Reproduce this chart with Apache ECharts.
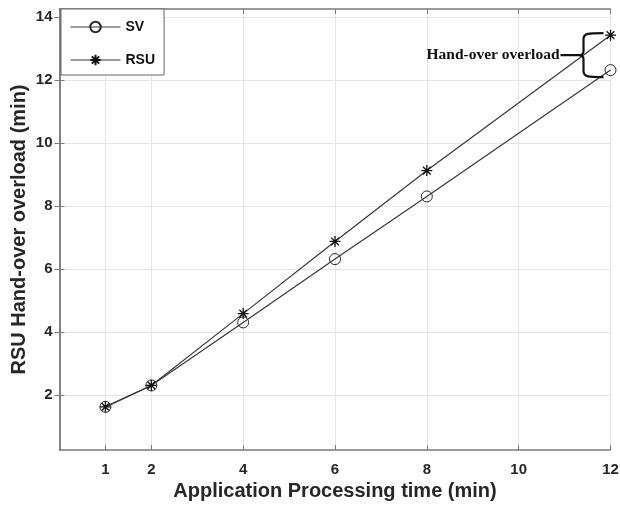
<!DOCTYPE html>
<html>
<head>
<meta charset="utf-8">
<script src="https://cdn.jsdelivr.net/npm/echarts@6/dist/echarts.min.js"></script>
<style>
  html, body { margin: 0; padding: 0; background: #fff; }
  #chart { width: 620px; height: 506px; }
</style>
</head>
<body>
<div id="chart"></div>
<script>
// Application processing time (min) on the x axis
const processingTime = [1, 2, 4, 6, 8, 12];
// Hand-over overload (min) per scheme
const svOverload = [1.62, 2.30, 4.30, 6.31, 8.30, 12.31];
const rsuOverload = [1.62, 2.30, 4.58, 6.87, 9.12, 13.42];
// Tick positions on each axis
const xTicks = [1, 2, 4, 6, 8, 10, 12];
const yTicks = [2, 4, 6, 8, 10, 12, 14];

const FONT = '"Liberation Sans", Arial, sans-serif';
const TEXT = '#262626';
const AXIS = '#7a7a7a';
const LINE = '#383838';
const STAR = 'path://M10,0L10,20M0,10L20,10M3,3L17,17M3,17L17,3';

const pairs = (xs, ys) => xs.map((x, i) => [x, ys[i]]);

const baseAxisLine = { show: true, lineStyle: { color: AXIS, width: 1.5 } };
const tickStyle = (vals) => ({
  show: true, inside: true, length: 5, customValues: vals,
  lineStyle: { color: AXIS, width: 1 }
});

const chart = echarts.init(document.getElementById('chart'), null, { renderer: 'canvas' });

const lastIdx = processingTime.length - 1;

chart.setOption({
  backgroundColor: '#fff',
  animation: false,
  textStyle: { fontFamily: FONT },
  grid: { left: 59.5, right: 9.5, top: 9, bottom: 56, containLabel: false, outerBoundsMode: 'none' },
  legend: {
    data: ['SV', 'RSU'],
    orient: 'vertical',
    left: 61, top: 9,
    padding: [11, 9, 8, 9],
    itemWidth: 50, itemHeight: 13, itemGap: 19,
    backgroundColor: '#fff',
    borderColor: '#666', borderWidth: 1,
    lineStyle: { width: 1 },
    textStyle: { fontFamily: FONT, fontWeight: 'bold', fontSize: 14, color: '#111' }
  },
  xAxis: [{
    type: 'value', min: 0, max: 12,
    name: 'Application Processing time (min)',
    nameLocation: 'middle', nameGap: 28,
    nameTextStyle: { fontFamily: FONT, fontWeight: 'bold', fontSize: 20, color: TEXT },
    axisLine: baseAxisLine,
    axisTick: tickStyle(xTicks),
    axisLabel: { customValues: xTicks, margin: 12, fontFamily: FONT, fontWeight: 'bold', fontSize: 15, color: TEXT },
    splitLine: { show: true, lineStyle: { color: '#e4e4e4', width: 1 } }
  }, {
    type: 'value', min: 0, max: 12, position: 'top',
    axisLine: baseAxisLine,
    axisTick: tickStyle(xTicks),
    axisLabel: { show: false },
    splitLine: { show: false }
  }],
  yAxis: [{
    type: 'value', min: 0.25, max: 14.25,
    name: 'RSU Hand-over overload (min)',
    nameLocation: 'middle', nameGap: 30, nameRotate: 90, nameMoveOverlap: false,
    nameTextStyle: { fontFamily: FONT, fontWeight: 'bold', fontSize: 20, color: TEXT },
    axisLine: baseAxisLine,
    axisTick: tickStyle(yTicks),
    axisLabel: { customValues: yTicks, margin: 7, fontFamily: FONT, fontWeight: 'bold', fontSize: 15, color: TEXT },
    splitLine: { show: true, lineStyle: { color: '#e4e4e4', width: 1 } }
  }, {
    type: 'value', min: 0.25, max: 14.25, position: 'right',
    axisLine: baseAxisLine,
    axisTick: tickStyle(yTicks),
    axisLabel: { show: false },
    splitLine: { show: false }
  }],
  series: [{
    name: 'SV', type: 'line',
    data: pairs(processingTime, svOverload),
    symbol: 'circle', symbolSize: 11,
    lineStyle: { color: LINE, width: 1.2 },
    itemStyle: { color: 'rgba(255,255,255,0)', borderColor: '#2a2a2a', borderWidth: 1 },
    z: 3
  }, {
    name: 'RSU', type: 'line',
    data: pairs(processingTime, rsuOverload),
    symbol: STAR, symbolSize: 11,
    lineStyle: { color: LINE, width: 1.2 },
    itemStyle: { color: '#111', borderColor: '#111', borderWidth: 1.3 },
    z: 4
  }, {
    // Brace marking the gap between the two schemes at the last point
    name: 'gap', type: 'custom', clip: false, silent: true, z: 5,
    data: [[processingTime[lastIdx], rsuOverload[lastIdx], svOverload[lastIdx]]],
    renderItem: function (params, api) {
      const top = api.coord([api.value(0), api.value(1)]);
      const bot = api.coord([api.value(0), api.value(2)]);
      const px = top[0];
      const yt = top[1] - 2, yb = bot[1] + 7, ym = (yt + yb) / 2;
      const e = px - 7, s = px - 27, t = px - 32, r = 6;
      const d = 'M' + e + ',' + yt +
        ' C' + (s + 5) + ',' + yt + ' ' + s + ',' + yt + ' ' + s + ',' + (yt + r) +
        ' L' + s + ',' + (ym - 4) +
        ' Q' + s + ',' + ym + ' ' + t + ',' + ym +
        ' Q' + s + ',' + ym + ' ' + s + ',' + (ym + 4) +
        ' L' + s + ',' + (yb - r) +
        ' C' + s + ',' + yb + ' ' + (s + 5) + ',' + yb + ' ' + e + ',' + yb +
        ' M' + (t - 18) + ',' + ym + ' L' + t + ',' + ym;
      return {
        type: 'group',
        children: [{
          type: 'path',
          shape: { pathData: d },
          style: { fill: null, stroke: '#111', lineWidth: 2.2 }
        }, {
          type: 'text',
          style: {
            text: 'Hand-over overload',
            x: t - 19, y: ym,
            align: 'right', verticalAlign: 'middle',
            font: 'bold 15.5px "Liberation Serif", "Times New Roman", serif',
            fill: '#111'
          }
        }]
      };
    }
  }]
});
</script>
</body>
</html>
